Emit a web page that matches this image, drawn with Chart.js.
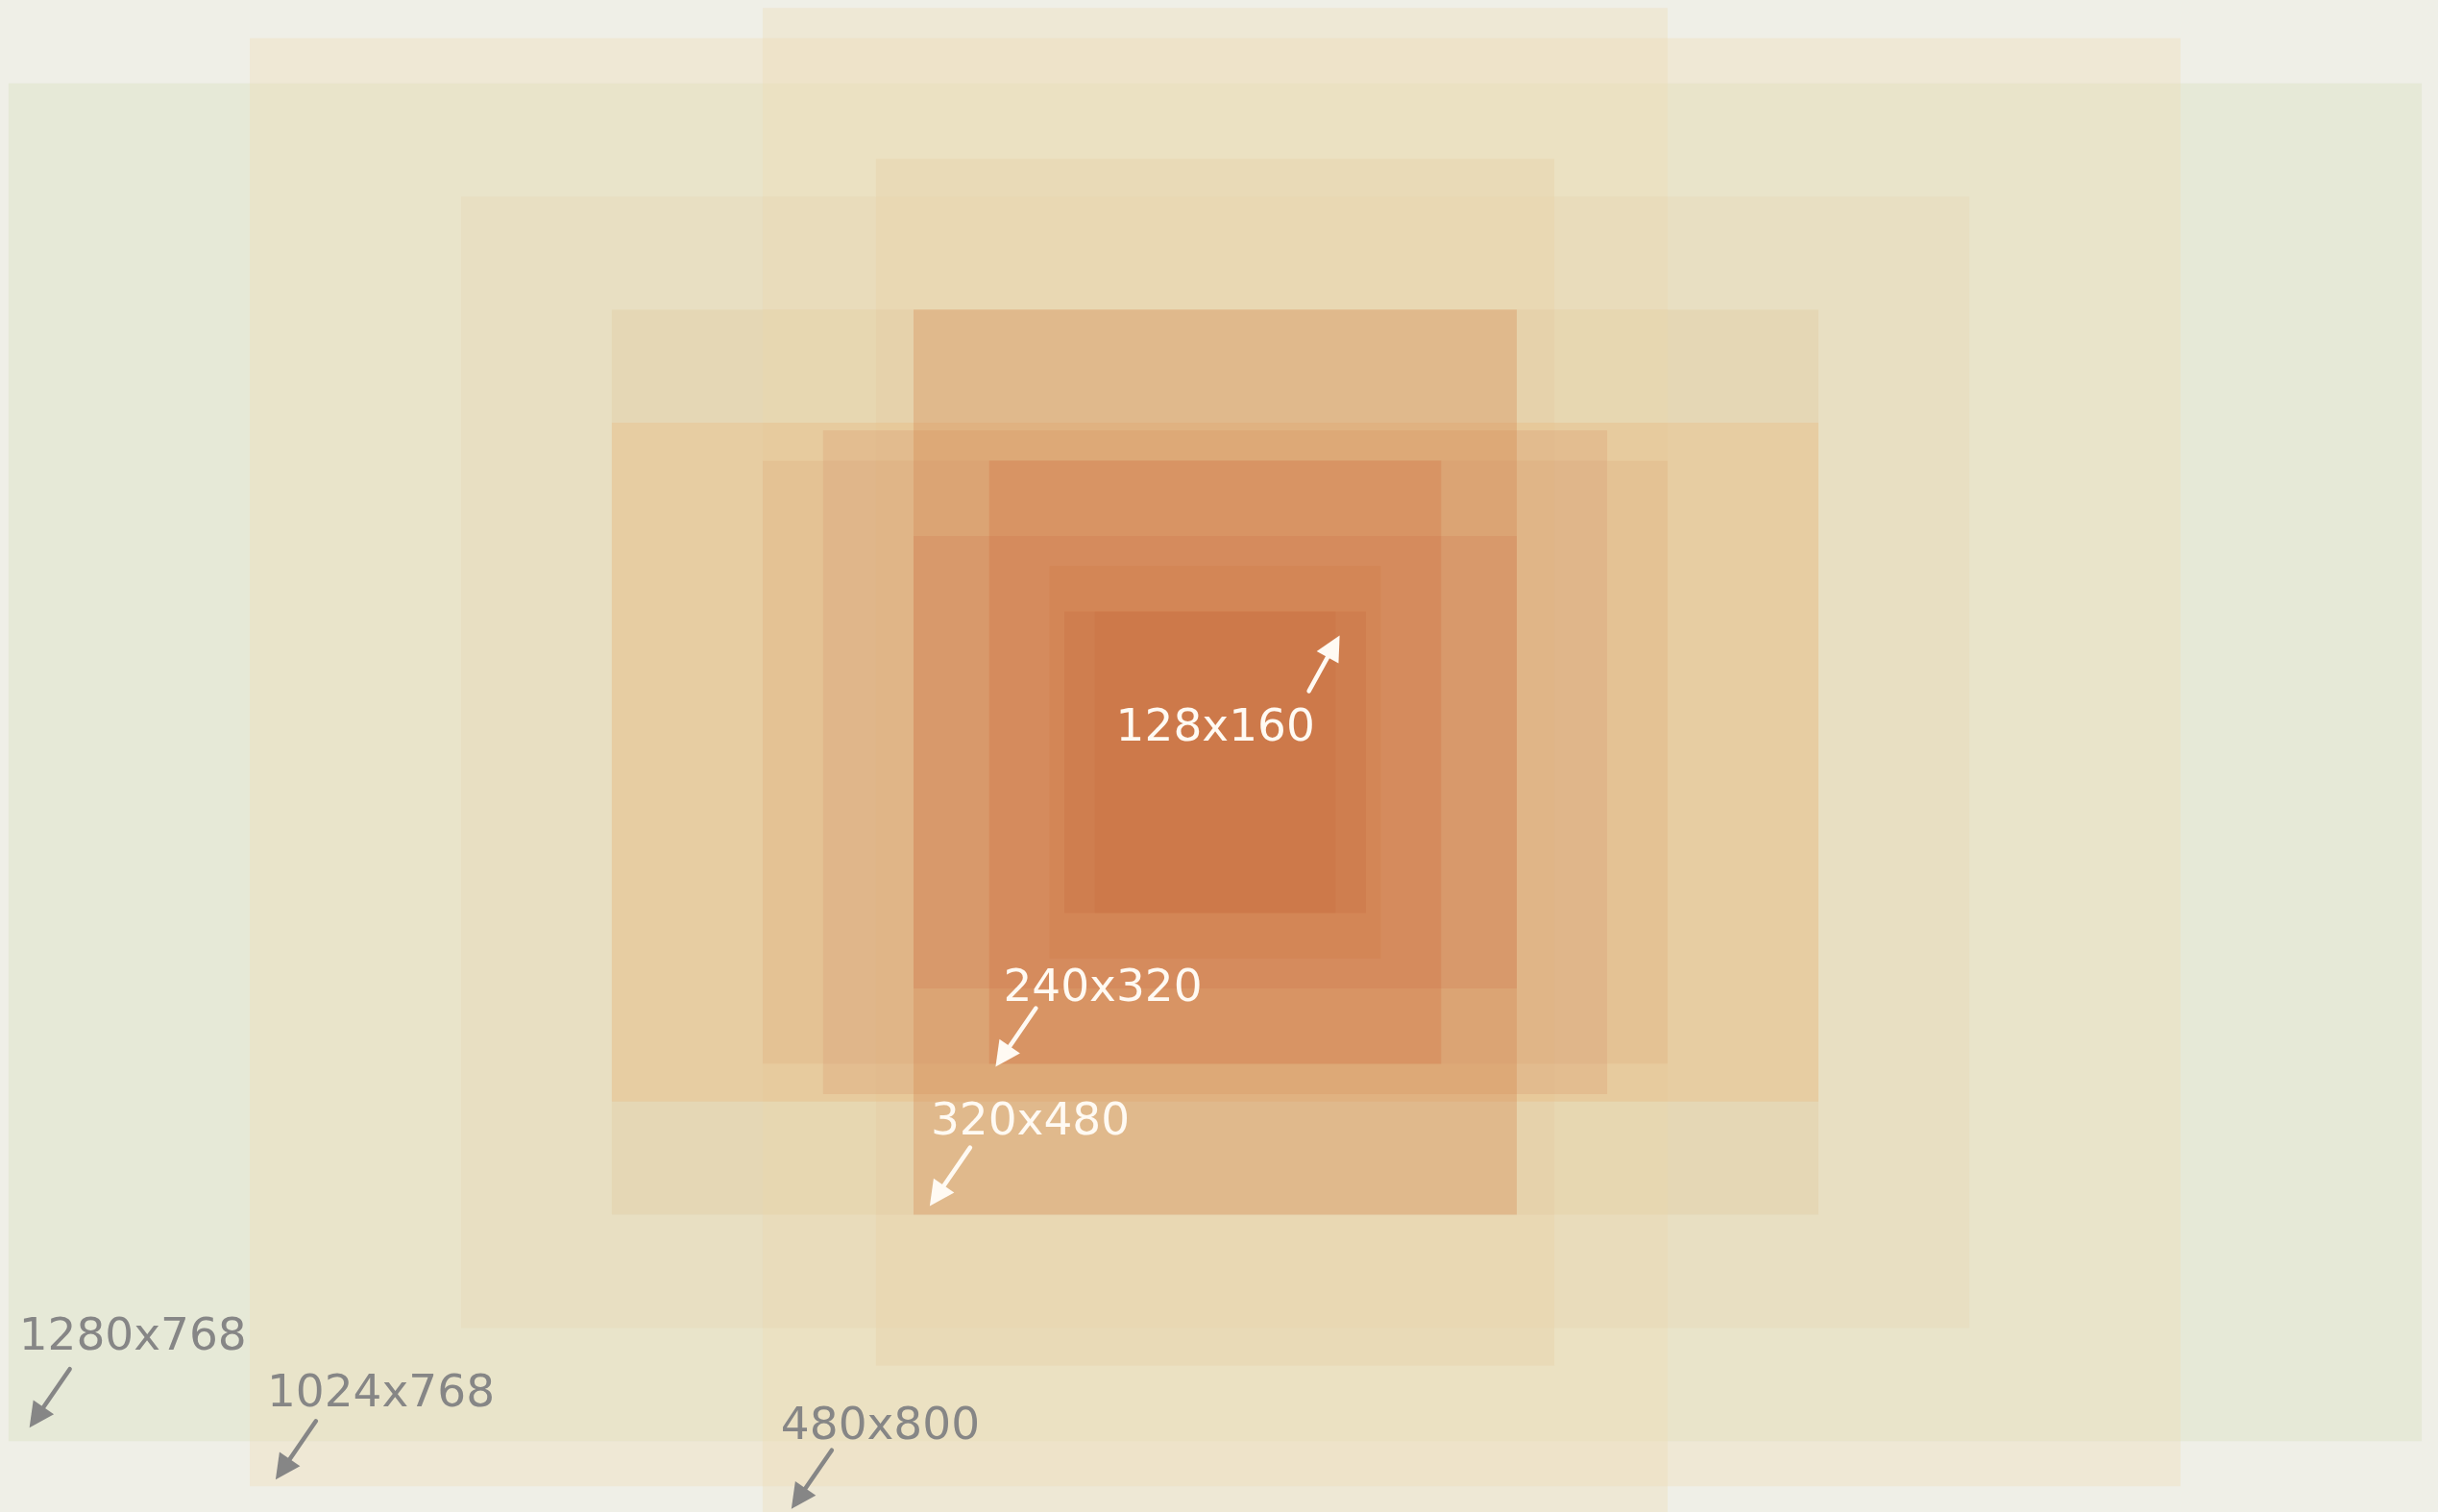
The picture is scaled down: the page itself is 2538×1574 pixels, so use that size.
<!DOCTYPE html>
<html>
<head>
<meta charset="utf-8">
<script src="https://cdn.jsdelivr.net/npm/chart.js@4.4.1/dist/chart.umd.min.js"></script>
<style>
  html, body { margin: 0; padding: 0; background: #efefe7; overflow: hidden; }
  #wrap { width: 2538px; height: 1574px; position: relative; }
</style>
</head>
<body>
<div id="wrap"><canvas id="screens"></canvas></div>
<script>
// Resoluciones de pantalla, de la mas grande a la mas pequeña
const screenLabels  = ['1280x768', '1024x768', '800x600', '480x800', '640x480', '360x640', '640x360', '480x320', '416x352', '320x480', '320x240', '240x320', '176x208', '160x160', '128x160'];
const screenWidths  = [1280, 1024, 800, 480, 640, 360, 640, 480, 416, 320, 320, 240, 176, 160, 128];
const screenHeights = [720, 768, 600, 800, 480, 640, 360, 320, 352, 480, 240, 320, 208, 160, 160];

// Colores de relleno (transparentes, se acumulan hacia el centro)
const fillColors = [
    'rgba(209, 219, 178, 0.3)',
    'rgba(239, 216, 171, 0.3)',
    'rgba(225, 209, 171, 0.3)',
    'rgba(236, 214, 172, 0.3)',
    'rgba(223, 198, 152, 0.3)',
    'rgba(228, 202, 158, 0.3)',
    'rgba(232, 180, 115, 0.3)',
    'rgba(219, 173, 125, 0.3)',
    'rgba(216, 155, 113, 0.3)',
    'rgba(209, 127, 68, 0.3)',
    'rgba(210, 125, 85, 0.3)',
    'rgba(207, 108, 64, 0.3)',
    'rgba(204, 123, 69, 0.3)',
    'rgba(199, 108, 64, 0.3)',
    'rgba(199, 108, 64, 0.3)',
];

// Etiquetas con flecha: rect = indice, corner = esquina a la que apunta
const callouts = [
    { rect: 0,  corner: 'bl', tip: [22, -14],  text: [-11, -81], color: '#868686' },
    { rect: 1,  corner: 'bl', tip: [27, -7],   text: [-9, -76],  color: '#868686' },
    { rect: 3,  corner: 'bl', tip: [30, -8],   text: [-11, -73], color: '#868686' },
    { rect: 11, corner: 'bl', tip: [7, 3],     text: [8, -69],   color: '#fffaf3' },
    { rect: 9,  corner: 'bl', tip: [17, -9],   text: [1, -75],   color: '#fffaf3' },
    { rect: 14, corner: 'tr', tip: [4, 25],    text: [-233, 110], color: '#fffaf3' },
];

const datasets = screenWidths.map((w, i) => ({
    label: screenLabels[i],
    data: [
        { x: -w / 2, y: screenHeights[i] / 2 },
        { x: w / 2, y: screenHeights[i] / 2 }
    ],
    fill: { value: -screenHeights[i] / 2 },
    backgroundColor: fillColors[i],
    borderColor: 'rgba(0, 0, 0, 0)',
    borderWidth: 0,
    pointRadius: 0,
    order: screenWidths.length - i
}));

const calloutPlugin = {
    id: 'callouts',
    afterDatasetsDraw(chart) {
        const ctx = chart.ctx;
        const xs = chart.scales.x;
        const ys = chart.scales.y;
        ctx.save();
        callouts.forEach(c => {
            const w = screenWidths[c.rect] / 2;
            const h = screenHeights[c.rect] / 2;
            const cx = xs.getPixelForValue(c.corner === 'bl' ? -w : w);
            const cy = ys.getPixelForValue(c.corner === 'bl' ? -h : h);
            const tipX = cx + c.tip[0];
            const tipY = cy + c.tip[1];
            // la flecha va desde la etiqueta hacia la esquina
            const dir = c.corner === 'bl' ? [42, -61] : [-32, 58];
            const tailX = tipX + dir[0];
            const tailY = tipY + dir[1];
            const len = Math.hypot(dir[0], dir[1]);
            const ux = -dir[0] / len, uy = -dir[1] / len;
            const headLen = 26, headHalf = 13;
            const baseX = tipX - ux * headLen, baseY = tipY - uy * headLen;

            ctx.strokeStyle = c.color;
            ctx.fillStyle = c.color;
            ctx.lineWidth = 4.5;
            ctx.lineCap = 'round';
            ctx.beginPath();
            ctx.moveTo(tailX, tailY);
            ctx.lineTo(baseX + ux * 4, baseY + uy * 4);
            ctx.stroke();

            ctx.beginPath();
            ctx.moveTo(tipX, tipY);
            ctx.lineTo(baseX - uy * headHalf, baseY + ux * headHalf);
            ctx.lineTo(baseX + uy * headHalf, baseY - ux * headHalf);
            ctx.closePath();
            ctx.fill();

            ctx.font = '47px "DejaVu Sans", sans-serif';
            ctx.textAlign = 'left';
            ctx.textBaseline = 'alphabetic';
            ctx.fillText(screenLabels[c.rect], tipX + c.text[0], tipY + c.text[1]);
        });
        ctx.restore();
    }
};

new Chart(document.getElementById('screens').getContext('2d'), {
    type: 'line',
    data: { datasets: datasets },
    options: {
        responsive: true,
        maintainAspectRatio: false,
        animation: false,
        layout: { padding: 0 },
        scales: {
            x: { type: 'linear', display: false, min: -644.4, max: 648.5 },
            y: { type: 'linear', display: false, min: -397.6, max: 404.2 }
        },
        plugins: {
            legend: { display: false },
            tooltip: { enabled: false },
            filler: { propagate: false }
        }
    },
    plugins: [calloutPlugin]
});
</script>
</body>
</html>
